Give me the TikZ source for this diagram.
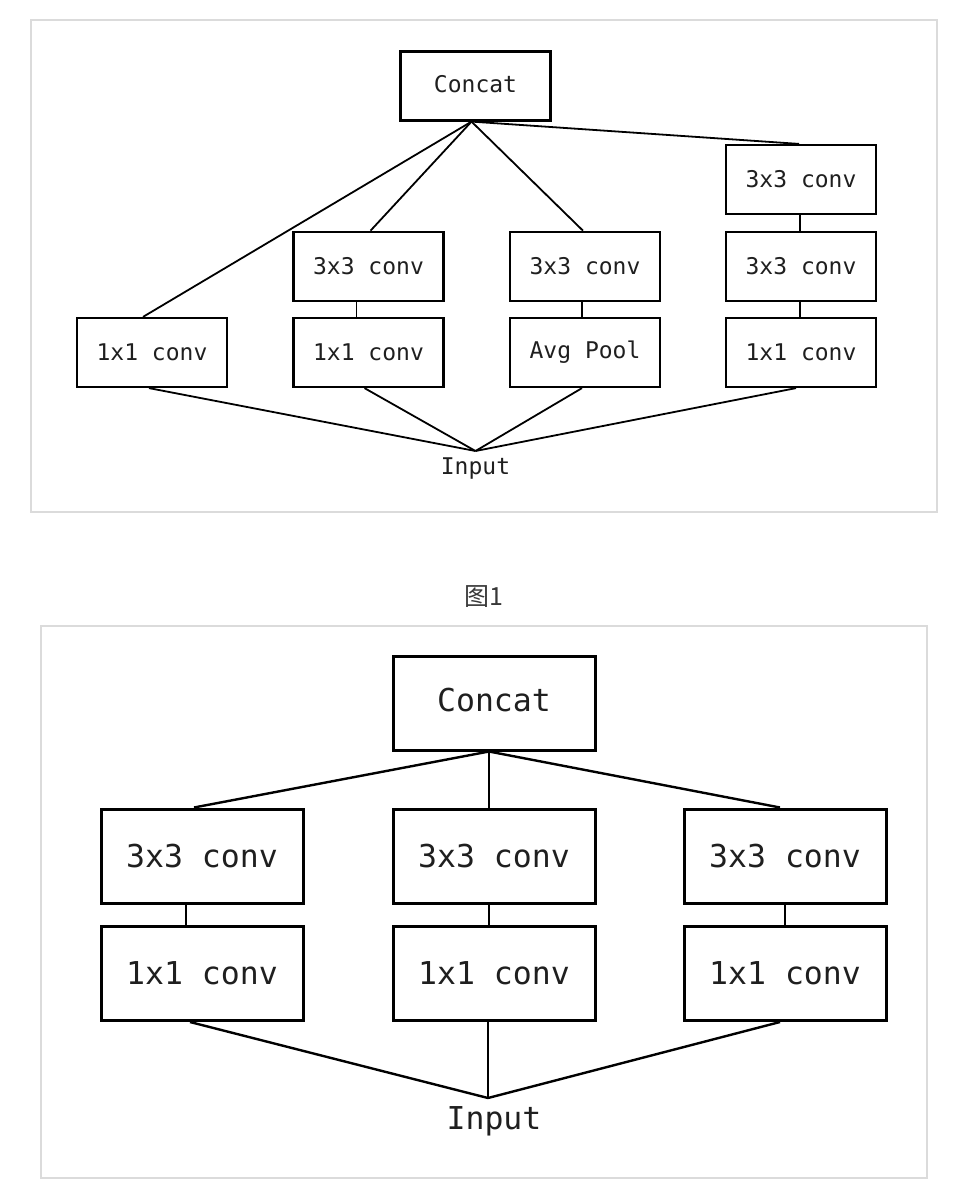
\documentclass[tikz,border=0pt]{standalone}
\usepackage{fontspec}
\setmonofont{DejaVu Sans Mono}
\newfontfamily\cjk{Noto Sans CJK SC}
\usetikzlibrary{calc}
\begin{document}
\begin{tikzpicture}[x=1pt,y=-1pt,
  frame/.style={draw=black!14, line width=2pt},
  tbox/.style={draw, line width=2.2pt, minimum width=150pt, minimum height=69pt, inner sep=0pt, font=\fontsize{23}{26}\selectfont\ttfamily, text=black!88},
  bbox/.style={draw, line width=3pt, minimum width=202pt, minimum height=94pt, inner sep=0pt, font=\fontsize{31.5}{36}\selectfont\ttfamily, text=black!88},
  tlabel/.style={inner sep=0pt, font=\fontsize{23}{26}\selectfont\ttfamily, text=black!88},
  blabel/.style={inner sep=0pt, font=\fontsize{31.5}{36}\selectfont\ttfamily, text=black!88},
  tline/.style={line width=1.8pt},
  bline/.style={line width=2.4pt}]
\useasboundingbox (0,0) rectangle (978,1192);
\fill[white] (0,0) rectangle (978,1192);
% frames
\draw[frame] (31,20) rectangle (937,512);
\draw[frame] (41,626) rectangle (927,1178);
% ---------- figure top ----------
\node[tbox] (tc) at (475.5,86) {\raisebox{5pt}{Concat}};
\node[tbox] (tl) at (152,352.5) {1x1 conv};
\node[tbox] (t2a) at (368.5,266.3) {3x3 conv};
\node[tbox] (t2b) at (368.5,352.5) {1x1 conv};
\node[tbox] (t3a) at (585,266.3) {3x3 conv};
\node[tbox] (t3b) at (585,352.5) {Avg Pool};
\node[tbox] (t4a) at (801,179.5) {3x3 conv};
\node[tbox] (t4b) at (801,266.3) {3x3 conv};
\node[tbox] (t4c) at (801,352.5) {1x1 conv};
\coordinate (tin) at (475.5,451);
\node[tlabel] (tinput) at (475.5,469) {Input};
\draw[tline] ([xshift=-4]tc.south) -- ([xshift=-9]tl.north);
\draw[tline] ([xshift=-4]tc.south) -- ([xshift=2]t2a.north);
\draw[tline] ([xshift=-4]tc.south) -- ([xshift=-2]t3a.north);
\draw[tline] ([xshift=-4]tc.south) -- ([xshift=-2]t4a.north);
\draw[tline] ([xshift=-12]t2a.south) -- ([xshift=-12]t2b.north);
\draw[tline] ([xshift=-3]t3a.south) -- ([xshift=-3]t3b.north);
\draw[tline] ([xshift=-1]t4a.south) -- ([xshift=-1]t4b.north);
\draw[tline] ([xshift=-1]t4b.south) -- ([xshift=-1]t4c.north);
\draw[tline] ([xshift=-3]tl.south) -- (tin);
\draw[tline] ([xshift=-4]t2b.south) -- (tin);
\draw[tline] ([xshift=-3]t3b.south) -- (tin);
\draw[tline] ([xshift=-5]t4c.south) -- (tin);
% caption
\node[inner sep=0pt, font=\cjk\fontsize{25}{28}\selectfont, text=black!78] (cap) at (484,597) {图1};
% ---------- figure bottom ----------
\node[bbox] (bc) at (494,703) {\raisebox{6pt}{Concat}};
\node[bbox] (b1a) at (202,856) {3x3 conv};
\node[bbox] (b1b) at (202,973.5) {1x1 conv};
\node[bbox] (b2a) at (494,856) {3x3 conv};
\node[bbox] (b2b) at (494,973.5) {1x1 conv};
\node[bbox] (b3a) at (785,856) {3x3 conv};
\node[bbox] (b3b) at (785,973.5) {1x1 conv};
\coordinate (bin) at (488,1098);
\node[blabel] (binput) at (494,1121) {Input};
\draw[bline] ([xshift=-5]bc.south) -- ([xshift=-8]b1a.north);
\draw[bline] ([xshift=-5]bc.south) -- ([xshift=-5]b2a.north);
\draw[bline] ([xshift=-5]bc.south) -- ([xshift=-5]b3a.north);
\draw[bline] ([xshift=-16]b1a.south) -- ([xshift=-16]b1b.north);
\draw[bline] ([xshift=-5]b2a.south) -- ([xshift=-5]b2b.north);
\draw[bline] (b3a.south) -- (b3b.north);
\draw[bline] ([xshift=-12]b1b.south) -- (bin);
\draw[bline] ([xshift=-6]b2b.south) -- (bin);
\draw[bline] ([xshift=-5]b3b.south) -- (bin);
\end{tikzpicture}
\end{document}
